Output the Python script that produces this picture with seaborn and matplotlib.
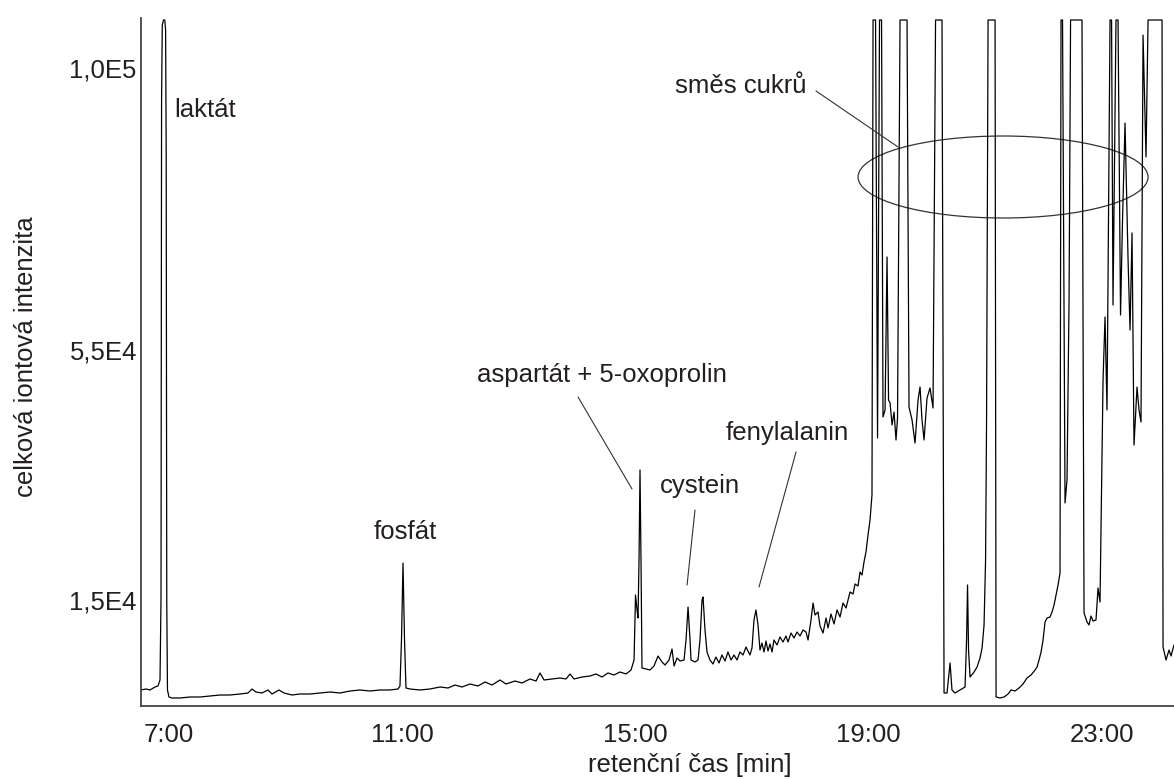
import matplotlib
matplotlib.use("Agg")
import matplotlib.pyplot as plt
from matplotlib.patches import Ellipse
import seaborn as sns
import pandas as pd

# ---- data (retention time [min], total ion intensity) ----
time_min = [
    6.520, 6.606, 6.674, 6.760, 6.811, 6.846, 6.863, 6.873, 6.885, 6.906, 6.928, 6.942, 6.952, 6.962, 6.974, 7.000,
    7.052, 7.189, 7.360, 7.532, 7.703, 7.875, 8.046, 8.218, 8.355, 8.424, 8.492, 8.595, 8.698, 8.767, 8.887, 8.973,
    9.110, 9.247, 9.419, 9.590, 9.762, 9.933, 10.105, 10.276, 10.448, 10.619, 10.791, 10.928, 10.962, 10.988, 11.014,
    11.040, 11.065, 11.134, 11.306, 11.477, 11.649, 11.786, 11.906, 12.026, 12.163, 12.300, 12.420, 12.540, 12.677,
    12.780, 12.935, 13.055, 13.192, 13.295, 13.364, 13.433, 13.570, 13.707, 13.810, 13.879, 13.947, 14.084, 14.221,
    14.324, 14.427, 14.530, 14.633, 14.736, 14.839, 14.925, 14.977, 15.002, 15.028, 15.045, 15.062, 15.079, 15.096,
    15.113, 15.182, 15.250, 15.319, 15.388, 15.457, 15.508, 15.577, 15.628, 15.663, 15.714, 15.766, 15.834, 15.868,
    15.903, 15.937, 15.954, 16.023, 16.074, 16.108, 16.143, 16.160, 16.194, 16.228, 16.279, 16.331, 16.382, 16.434,
    16.485, 16.537, 16.588, 16.640, 16.691, 16.743, 16.794, 16.846, 16.897, 16.931, 16.965, 17.000, 17.034, 17.068,
    17.103, 17.137, 17.171, 17.206, 17.240, 17.274, 17.309, 17.343, 17.377, 17.429, 17.480, 17.532, 17.583, 17.617,
    17.669, 17.720, 17.772, 17.823, 17.875, 17.926, 17.961, 18.012, 18.047, 18.081, 18.132, 18.167, 18.218, 18.270,
    18.304, 18.355, 18.407, 18.458, 18.510, 18.561, 18.613, 18.681, 18.733, 18.767, 18.818, 18.853, 18.887, 18.921,
    18.955, 18.990, 19.024, 19.058, 19.076, 19.119, 19.153, 19.187, 19.222, 19.247, 19.282, 19.316, 19.342, 19.368,
    19.402, 19.436, 19.470, 19.496, 19.539, 19.659, 19.693, 19.745, 19.796, 19.848, 19.882, 19.916, 19.951, 20.002,
    20.053, 20.105, 20.148, 20.259, 20.294, 20.345, 20.397, 20.430, 20.482, 20.568, 20.654, 20.680, 20.697, 20.714,
    20.740, 20.809, 20.860, 20.911, 20.946, 20.980, 21.006, 21.023, 21.049, 21.169, 21.186, 21.254, 21.323, 21.392,
    21.443, 21.512, 21.580, 21.649, 21.717, 21.786, 21.855, 21.889, 21.923, 21.958, 21.992, 22.026, 22.061, 22.112,
    22.146, 22.181, 22.215, 22.249, 22.283, 22.300, 22.326, 22.369, 22.403, 22.438, 22.464, 22.660, 22.695, 22.746,
    22.780, 22.815, 22.849, 22.900, 22.935, 22.969, 23.021, 23.055, 23.089, 23.141, 23.167, 23.192, 23.243, 23.278,
    23.321, 23.355, 23.398, 23.450, 23.484, 23.518, 23.552, 23.604, 23.638, 23.672, 23.707, 23.758, 23.793, 24.033,
    24.050, 24.101, 24.153, 24.187, 24.238,
]
intensity = [
    622, 782, 622, 1101, 1261, 2219, 15000, 94880, 106862, 107660, 107660, 106063, 86892, 15000, 622, -497,
    -657, -657, -497, -497, -338, -178, -178, -18, 143, 782, 302, 143, 622, -18, 622, 143,
    -178, -18, -18, 143, 302, 143, 462, 622, 462, 622, 622, 782, 1261, 8610, 20911,
    8610, 941, 782, 622, 782, 1101, 941, 1420, 1101, 1580, 1261, 1899, 1420, 2219,
    1580, 2059, 1740, 2379, 2059, 3338, 2219, 2379, 2538, 2379, 3178, 2379, 2698, 2858,
    3178, 2698, 3338, 3018, 3498, 3178, 3817, 5414, 15799, 13402, 12124, 21390, 35769, 21390,
    4137, 3977, 3817, 4456, 6053, 5095, 4616, 5414, 7171, 4456, 5734, 5255, 5414, 8610,
    13882, 8610, 5414, 5095, 5414, 8610, 15000, 15479, 10207, 6693, 5414, 4776, 5894, 4935,
    6213, 5255, 6693, 5414, 6213, 5414, 6693, 6213, 7491, 6852, 6213, 7331, 11805, 13402,
    11006, 7012, 8131, 6693, 8450, 6852, 7970, 6693, 8610, 7811, 9089, 8290, 9249, 8290,
    9728, 8929, 9888, 9249, 10207, 9888, 8610, 11805, 14521, 12603, 13083, 10846, 9728, 12124,
    10527, 12763, 11166, 13402, 12284, 14521, 13722, 16278, 15958, 17556, 17236, 19473, 18994, 21071,
    22668, 25385, 27780, 31775, 107660, 107660, 40882, 107660, 107660, 44237, 45355, 69798, 46952, 46473,
    42958, 45035, 40562, 44077, 107660, 107660, 45834, 43757, 40083, 46952, 49029, 43757, 40562, 47272,
    48869, 45674, 107660, 107660, 143, 143, 4935, 622, 143, 622, 1101, 8610, 17396, 7012,
    2698, 3498, 4297, 5734, 7331, 11006, 21390, 43757, 107660, 107660, -497, -657, -497, -18,
    622, 462, 941, 1580, 2538, 3018, 3817, 4297, 5414, 6693, 8610, 11485, 12124, 12284,
    13083, 14201, 15799, 17396, 19313, 107660, 107660, 30498, 34173, 62928, 107660, 107660, 12923, 11485,
    11006, 12443, 11645, 11805, 16917, 14680, 50147, 60212, 45355, 107660, 107660, 62129, 107660, 107660,
    60532, 75709, 91206, 69318, 58135, 73639, 39763, 49029, 45355, 43438, 105264, 85773, 107660, 107660,
    7491, 5414, 7012, 6053, 7811,
]

xtick_vals = [7, 11, 15, 19, 23]
xtick_labels = ["7:00", "11:00", "15:00", "19:00", "23:00"]
ytick_vals = [15000, 55000, 100000]
ytick_labels = ["1,5E4", "5,5E4", "1,0E5"]

peak_names = ["laktát", "fosfát", "aspartát + 5-oxoprolin", "cystein", "fenylalanin", "směs cukrů"]

# ---- style ----
sns.set_style("white")
plt.rcParams["font.family"] = ["Liberation Sans", "DejaVu Sans"]
TXT = "#231f20"
FS = 18.5

fig = plt.figure(figsize=(11.74, 7.80), dpi=100)
ax = fig.add_axes([0.12010, 0.09487, 0.87990, 0.88205])

df = pd.DataFrame({"t": time_min, "I": intensity})
sns.lineplot(data=df, x="t", y="I", sort=False, estimator=None,
             color="black", linewidth=0.9, ax=ax)

ax.set_xlim(6.52, 24.238)
ax.set_ylim(-1935, 107980)
ax.set_xticks(xtick_vals)
ax.set_xticklabels(xtick_labels)
ax.set_yticks(ytick_vals)
ax.set_yticklabels(ytick_labels)
ax.tick_params(axis="x", length=0, pad=12, labelsize=FS, labelcolor=TXT)
ax.tick_params(axis="y", length=0, pad=3, labelsize=FS, labelcolor=TXT)

for side in ("top", "right"):
    ax.spines[side].set_visible(False)
for side in ("left", "bottom"):
    ax.spines[side].set_color("#444444")
    ax.spines[side].set_linewidth(1.3)

ax.set_xlabel("retenční čas [min]", fontsize=FS, color=TXT)
ax.xaxis.set_label_coords(0.5315, -0.0858)
ax.xaxis.label.set_verticalalignment("center")
ax.set_ylabel("celková iontová intenzita", fontsize=FS, color=TXT)
ax.yaxis.set_label_coords(-0.1113, 0.507)
ax.yaxis.label.set_verticalalignment("center")

# ---- peak annotations ----
ax.text(7.086, 92164, peak_names[0], fontsize=FS, color=TXT, ha="left", va="baseline")
ax.text(11.048, 24745, peak_names[1], fontsize=FS, color=TXT, ha="center", va="baseline")
ax.text(12.283, 49828, peak_names[2], fontsize=FS, color=TXT, ha="left", va="baseline")
ax.text(15.422, 32094, peak_names[3], fontsize=FS, color=TXT, ha="left", va="baseline")
ax.text(16.554, 40562, peak_names[4], fontsize=FS, color=TXT, ha="left", va="baseline")
ax.text(15.680, 95998, peak_names[5], fontsize=FS, color=TXT, ha="left", va="baseline")

LC = "#333333"
ax.plot([14.016, 14.942], [47431, 32733], color=LC, lw=0.8)
ax.plot([16.022, 15.886], [29378, 17396], color=LC, lw=0.8)
ax.plot([17.755, 17.120], [38645, 17077], color=LC, lw=0.8)
ax.plot([18.098, 19.505], [96318, 87371], color=LC, lw=0.8)
ax.add_patch(Ellipse((21.306, 82578), width=4.974, height=13100,
                     fill=False, edgecolor=LC, lw=0.9))

fig.savefig("out.png", dpi=100)
